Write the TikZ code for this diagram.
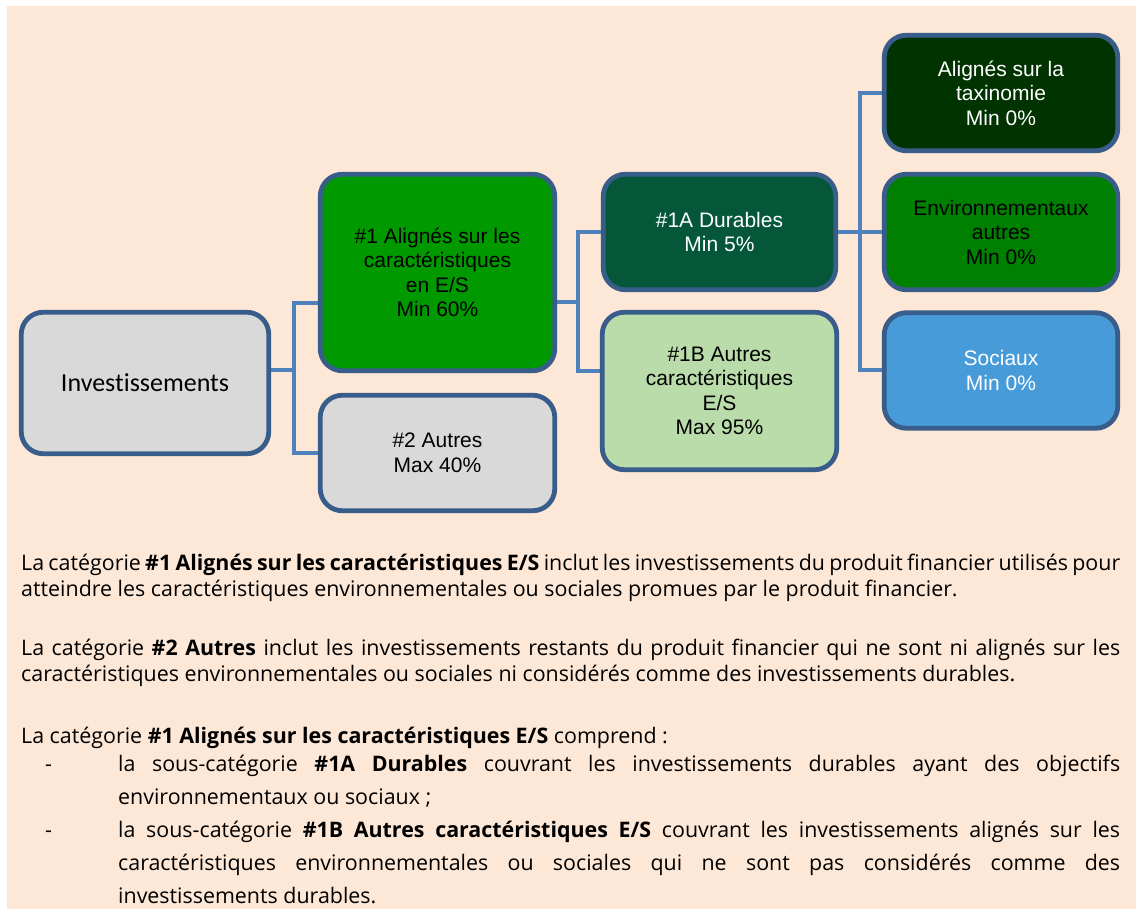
\documentclass[tikz,border=0pt]{standalone}
\usepackage{fontspec}
\setmainfont{Open Sans}
\newfontfamily\arialf{Liberation Sans}
\newfontfamily\calib[Ligatures={NoCommon,NoRare}]{Carlito}
\usetikzlibrary{backgrounds}
\definecolor{bgpeach}{HTML}{FDE7D6}
\definecolor{boxborder}{HTML}{385D8A}
\definecolor{connblue}{HTML}{4F81BD}
\definecolor{greyfill}{HTML}{D9D9D9}
\definecolor{gone}{HTML}{009900}
\definecolor{gonea}{HTML}{05573A}
\definecolor{goneb}{HTML}{B9DCAA}
\definecolor{gtax}{HTML}{003300}
\definecolor{genv}{HTML}{008000}
\definecolor{bsoc}{HTML}{469BD8}
\tikzset{
  boxnode/.style={draw=boxborder, line width=4.8pt, rounded corners=22pt, align=center, inner sep=2pt,
    font=\arialf\fontsize{21}{24.5}\selectfont},
  conn/.style={draw=connblue, line width=4pt},
  bodytext/.style={anchor=north west, inner sep=0pt, align=justify,
    font=\fontsize{21.4}{26.5}\selectfont},
  itemtext/.style={anchor=north west, inner sep=0pt, align=justify,
    font=\fontsize{21.4}{33}\selectfont},
}
\begin{document}
\begin{tikzpicture}[x=1pt,y=-1pt]
\useasboundingbox (0,0) rectangle (1138,909);

% boxes
\node[boxnode, fill=greyfill, minimum width=247.5pt, minimum height=141.5pt,
  font=\calib\fontsize{26}{30}\selectfont] (inv) at (145,383) {Investissements};
\node[boxnode, fill=gone, minimum width=234.5pt, minimum height=196.5pt] (n1) at (437.5,272.5)
  {\#1 Alignés sur les\\caractéristiques\\en E/S\\Min 60\%};
\node[boxnode, fill=greyfill, minimum width=234.5pt, minimum height=115.5pt] (n2) at (437.5,453)
  {\#2 Autres\\Max 40\%};
\node[boxnode, fill=gonea, text=white, minimum width=232.5pt, minimum height=115.5pt] (n1a) at (719.5,232)
  {\#1A Durables\\Min 5\%};
\node[boxnode, fill=goneb, minimum width=234.5pt, minimum height=157.5pt] (n1b) at (719.5,391)
  {\#1B Autres\\caractéristiques\\E/S\\Max 95\%};
\node[boxnode, fill=gtax, text=white, minimum width=233.5pt, minimum height=115.5pt] (tax) at (1001,93)
  {Alignés sur la\\taxinomie\\Min 0\%};
\node[boxnode, fill=genv, minimum width=233.5pt, minimum height=115.5pt] (env) at (1001,232)
  {Environnementaux\\autres\\Min 0\%};
\node[boxnode, fill=bsoc, text=white, minimum width=233.5pt, minimum height=115.5pt] (soc) at (1001,370.5)
  {Sociaux\\Min 0\%};

% background and connectors
\begin{scope}[on background layer]
\fill[white] (0,0) rectangle (1138,909);
\fill[bgpeach] (7,6) rectangle (1136,909);
\coordinate (ja) at (294,370);
\coordinate (jat) at (294,303);
\coordinate (jab) at (294,453);
\draw[conn] (inv.east |- ja) -- (ja);
\draw[conn] (n1.west |- jat) -- (jat) -- (jab) -- (n2.west |- jab);
\coordinate (jb) at (578,302);
\coordinate (jbt) at (578,232);
\coordinate (jbb) at (578,371);
\draw[conn] (n1.east |- jb) -- (jb);
\draw[conn] (n1a.west |- jbt) -- (jbt) -- (jbb) -- (n1b.west |- jbb);
\coordinate (jc) at (860,232);
\coordinate (jct) at (860,93);
\coordinate (jcb) at (860,370);
\draw[conn] (n1a.east |- jc) -- (env.west |- jc);
\draw[conn] (tax.west |- jct) -- (jct) -- (jcb) -- (soc.west |- jcb);
\end{scope}

% body text
\node[bodytext, text width=1099pt] (p1) at (21,550) {\noindent\hyphenpenalty=10000\exhyphenpenalty=10000\tolerance=10000\rule{0pt}{20pt}La catégorie \textbf{\#1 Alignés sur les caractéristiques E/S} inclut les investissements du produit financier utilisés pour\linebreak atteindre les caractéristiques environnementales ou sociales promues par le produit financier.};
\node[bodytext, text width=1099pt] (p2) at (21,635) {\noindent\hyphenpenalty=10000\exhyphenpenalty=10000\tolerance=10000\rule{0pt}{20pt}La catégorie \textbf{\#2 Autres} inclut les investissements restants du produit financier qui ne sont ni alignés sur les\linebreak caractéristiques environnementales ou sociales ni considérés comme des investissements durables.};
\node[bodytext, text width=1099pt] (p3) at (21,723) {\noindent\rule{0pt}{20pt}La catégorie \textbf{\#1 Alignés sur les caractéristiques E/S} comprend~:};
\node[bodytext] (d1) at (45,751) {\rule{0pt}{20pt}-};
\node[itemtext, text width=1002pt] (i1) at (118,751) {\noindent\hyphenpenalty=10000\exhyphenpenalty=10000\tolerance=10000\rule{0pt}{20pt}la sous-catégorie \textbf{\#1A Durables} couvrant les investissements durables ayant des objectifs\linebreak environnementaux ou sociaux~;};
\node[bodytext] (d2) at (45,817) {\rule{0pt}{20pt}-};
\node[itemtext, text width=1002pt] (i2) at (118,817) {\noindent\hyphenpenalty=10000\exhyphenpenalty=10000\tolerance=10000\rule{0pt}{20pt}la sous-catégorie \textbf{\#1B Autres caractéristiques E/S} couvrant les investissements alignés sur les\linebreak caractéristiques environnementales ou sociales qui ne sont pas considérés comme des\linebreak investissements durables.};
\end{tikzpicture}
\end{document}
